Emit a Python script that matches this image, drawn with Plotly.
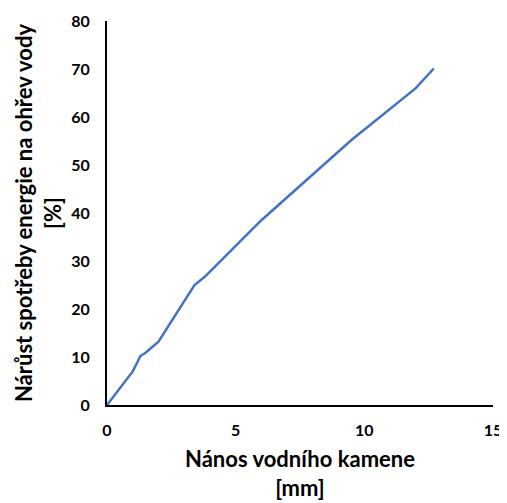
import plotly.graph_objects as go

x_mm = [0, 1.0, 1.3, 1.5, 2.0, 3.4, 3.8, 6.0, 9.5, 12.0, 12.7]
y_pct = [0, 7.0, 10.2, 10.9, 13.2, 25.0, 26.7, 38.5, 55.2, 66.0, 70.1]

x_title = "Nános vodního kamene<br>[mm]"
y_title = "Nárůst spotřeby energie na ohřev vody<br>[%]"

fig = go.Figure()
fig.add_trace(go.Scatter(x=x_mm, y=y_pct, mode="lines",
                         line=dict(color="#4472C4", width=2.5)))

font_family = "Lato, 'Open Sans', sans-serif"
# page body has an 8px margin, so the figure is made smaller and shifted
fig.update_layout(
    width=495, height=493,
    margin=dict(l=99, r=10, t=13, b=96),
    paper_bgcolor="white", plot_bgcolor="white",
    showlegend=False,
    font=dict(family=font_family, color="#000000"),
)
fig.update_xaxes(
    range=[0, 15], tickvals=[0, 5, 10, 15], showgrid=False, zeroline=False,
    showline=True, linecolor="black", linewidth=2, automargin=False,
    ticks="", ticklabelstandoff=10, ticklabeloverflow="allow",
    tickfont=dict(size=16, family=font_family, weight="bold"),
    title=dict(text=x_title, font=dict(size=22, family=font_family, weight="bold"), standoff=33),
)
fig.update_yaxes(
    range=[0, 80], tickvals=[0, 10, 20, 30, 40, 50, 60, 70, 80], showgrid=False, zeroline=False,
    showline=True, linecolor="black", linewidth=2, automargin=False,
    ticks="", ticklabelstandoff=12,
    tickfont=dict(size=16, family=font_family, weight="bold"),
    title=dict(text=y_title, font=dict(size=22, family=font_family, weight="bold"), standoff=4),
)
fig.write_html("out.html")
